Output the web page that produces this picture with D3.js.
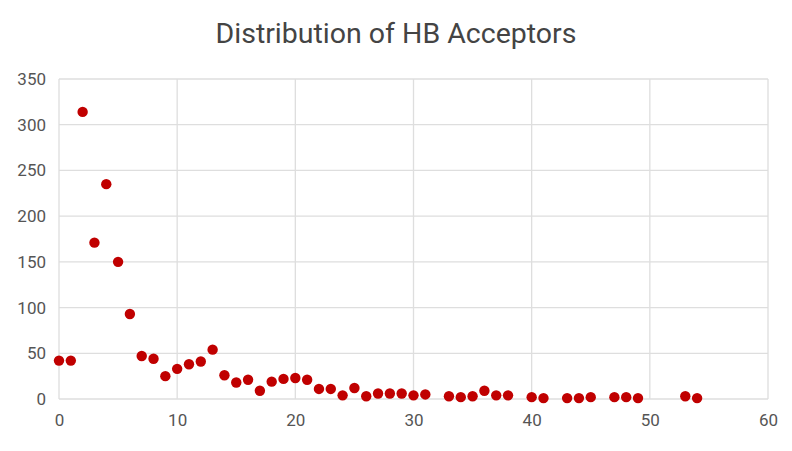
<!DOCTYPE html>
<html><head><meta charset="utf-8">
<script src="https://cdn.jsdelivr.net/npm/d3@7"></script>
<style>body{margin:0;background:#fff;}svg{display:block;font-family:Roboto, sans-serif;}</style>
</head><body>
<svg id="c" width="792" height="451"></svg>
<script>
const acceptors = [0,1,2,3,4,5,6,7,8,9,10,11,12,13,14,15,16,17,18,19,20,21,22,23,24,25,26,27,28,29,30,31,33,34,35,36,37,38,40,41,43,44,45,47,48,49,53,54];
const counts    = [42,42,314,171,235,150,93,47,44,25,33,38,41,54,26,18,21,9,19,22,23,21,11,11,4,12,3,6,6,6,4,5,3,2,3,9,4,4,2,1,1,1,2,2,2,1,3,1];
const xTicks = [0,10,20,30,40,50,60];
const yTicks = [0,50,100,150,200,250,300,350];
const title = "Distribution of HB Acceptors";

const svg = d3.select("#c");
const x = d3.scaleLinear().domain([0,60]).range([59,768]);
const y = d3.scaleLinear().domain([0,350]).range([399,79]);

svg.append("text").attr("x",396).attr("y",43).attr("text-anchor","middle")
  .attr("font-size",28.5).attr("fill","#444").text(title);

const grid = svg.append("g");
grid.selectAll("line.h").data(yTicks).join("line")
  .attr("x1",x(0)).attr("x2",x(60)).attr("y1",d=>y(d)).attr("y2",d=>y(d))
  .attr("stroke","#dedede").attr("stroke-width",1.3);
grid.selectAll("line.v").data(xTicks).join("line")
  .attr("y1",y(0)).attr("y2",y(350)).attr("x1",d=>x(d)).attr("x2",d=>x(d))
  .attr("stroke","#dedede").attr("stroke-width",1.3);

const xAxis = svg.append("g").attr("transform",`translate(0,${y(0)})`)
  .call(d3.axisBottom(x).tickValues(xTicks).tickSize(0).tickPadding(15).tickFormat(d3.format("d")));
xAxis.select(".domain").remove();
xAxis.selectAll("text").attr("font-size",17).attr("fill","#555").attr("font-family","Roboto, sans-serif");

const yAxis = svg.append("g").attr("transform",`translate(${x(0)},0)`)
  .call(d3.axisLeft(y).tickValues(yTicks).tickSize(0).tickPadding(13).tickFormat(d3.format("d")));
yAxis.select(".domain").remove();
yAxis.selectAll("text").attr("font-size",17).attr("fill","#555").attr("font-family","Roboto, sans-serif");

svg.append("g").selectAll("circle").data(acceptors).join("circle")
  .attr("cx",(d)=>x(d)).attr("cy",(d,i)=>y(counts[i])).attr("r",5.2).attr("fill","#c00000");
</script>
</body></html>
